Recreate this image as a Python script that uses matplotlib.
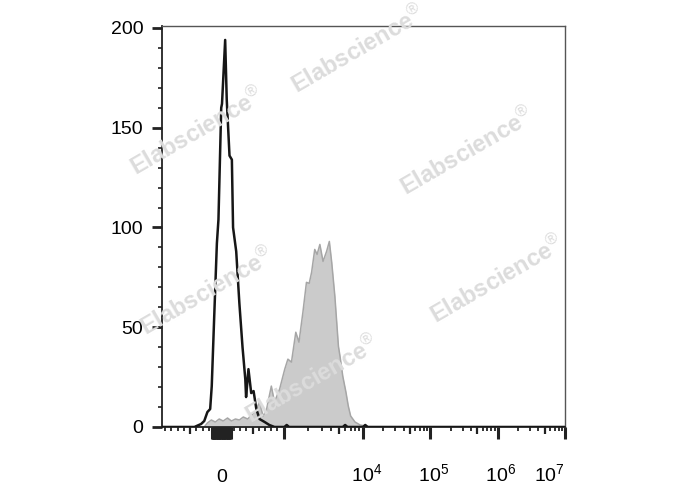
"""
Flow cytometry histogram: black open curve vs grey filled curve on a
biexponential-style axis, with the Elabscience watermark.
"""

import numpy as np
import matplotlib
matplotlib.use('Agg')
import matplotlib.pyplot as plt

plt.rcParams['font.family'] = ['Liberation Sans', 'DejaVu Sans']
plt.rcParams['mathtext.fontset'] = 'custom'
plt.rcParams['mathtext.rm'] = 'Liberation Sans'
plt.rcParams['mathtext.bf'] = 'Liberation Sans:bold'

# ── data (display channel 0..1024, counts) ────────────────────────────────
black_ch = [0, 82, 99, 107, 115, 122, 126, 132, 139, 143,
            150, 152, 160, 164, 171, 177, 180, 188, 196, 204,
            211, 213, 219, 226, 232, 239, 247, 260, 272, 285,
            310, 316, 322, 458, 464, 470, 509, 515, 521, 1024]
black_count = [0, 0, 1.5, 3, 7.5, 9, 20.5, 54, 92, 104,
               160, 162, 194, 164, 136, 134, 100, 88, 62, 40,
               24, 15, 29, 17, 18, 9, 4, 2.5, 1, 0,
               0, 1, 0, 0, 1, 0, 0, 1, 0, 0]

grey_ch = [0, 107, 115, 125, 135, 145, 155, 166, 176, 186,
           196, 206, 217, 227, 237, 247, 256, 264, 277, 285,
           298, 311, 319, 328, 339, 347, 357, 366, 373, 379,
           387, 393, 400, 408, 417, 424, 430, 438, 447, 451,
           458, 466, 472, 478, 489, 502, 515, 527, 1024]
grey_count = [0, 0, 2, 3.5, 2.5, 4, 3, 4.5, 3, 4,
              3.5, 5, 4, 6, 8, 12.5, 5.5, 8, 20.5, 12.5,
              19, 29, 34, 32.5, 47.5, 42.5, 57.5, 72.5, 72, 77.5,
              89, 86.5, 91.5, 83, 88, 93, 82.5, 65.5, 40.5, 35.5,
              25.5, 17.5, 10.5, 5.5, 2.5, 1, 0.5, 0, 0]

y_major = [0, 50, 100, 150, 200]
x_labelled = {0: '0', 1e4: r'$\hspace{0.4}10^4$', 1e5: r'$\hspace{0.4}10^5$',
              1e6: r'$\hspace{0.4}10^6$', 1e7: r'$10^7$'}

watermark_xy = [(358, 50), (197, 132), (467, 152), (207, 292), (497, 280), (312, 380)]


# ── display transform: linear around zero, log above 1e3 ─────────────────
ZERO_CH = 150.3
LIN_SLOPE = 0.158
DECADE_CH = 170.6
FIRST_DECADE_EXTRA = 30.6


def to_channel(v):
    v = np.asarray(v, dtype=float)
    lin = ZERO_CH + LIN_SLOPE * v
    dec = np.log10(np.maximum(v, 1e3) / 1e3)
    log = ZERO_CH + LIN_SLOPE * 1e3 + DECADE_CH * dec + FIRST_DECADE_EXTRA * np.minimum(dec, 1)
    return np.where(v <= 1e3, lin, log)


# tick values by kind
blob = [v for v in range(-150, 151, 10) if v != 0]
small_lin = [-900, -800, -700, -600, -400, -300, -200, 200, 300, 400, 600, 700, 800, 900]
medium = [-500, 500, 5e3, 5e4, 5e5, 5e6]
small_log = [k * 10 ** d for d in range(3, 7) for k in (2, 3, 4, 6, 7, 8, 9)]
long_ticks = [0, 1e3, 1e4, 1e5, 1e6, 1e7]

tick_kind = {}
for v in blob + long_ticks:
    tick_kind[v] = 'long'
for v in small_lin + small_log:
    tick_kind[v] = 'short'
for v in medium:
    tick_kind[v] = 'medium'
tick_vals = sorted(tick_kind)

fig = plt.figure(figsize=(6.88, 4.9), dpi=100)
ax = fig.add_axes([0.2355, 0.1286, 0.5858, 0.8184])

ax.fill_between(grey_ch, grey_count, color='#cbcbcb', lw=0, zorder=1)
ax.plot(grey_ch, grey_count, color='#a6a6a6', lw=1.1, zorder=1.5)
ax.plot(black_ch, black_count, color='#161616', lw=1.8, zorder=3)

ax.set_xlim(0, float(to_channel(1e7)))
ax.set_ylim(0, 201)

# y axis
ax.set_yticks(y_major)
ax.set_yticks(np.arange(0, 201, 10), minor=True)
ax.tick_params(axis='y', which='major', direction='out', length=7.5, width=2.0,
               labelsize=14, pad=6, color='#222222')
ax.tick_params(axis='y', which='minor', direction='out', length=3, width=1.2, color='#222222')

# x axis
ax.set_xticks(to_channel(tick_vals), [x_labelled.get(v, '') for v in tick_vals])
ax.tick_params(axis='x', which='major', direction='out', length=8.5, width=2.0,
               labelsize=14, pad=31, color='#222222')
sizes = {'long': (8.5, 2.2), 'medium': (5.0, 1.6), 'short': (3.0, 1.3)}
for tick, v in zip(ax.xaxis.get_major_ticks(), tick_vals):
    size, width = sizes[tick_kind[v]]
    tick.tick1line.set_markersize(size)
    tick.tick1line.set_markeredgewidth(width)
    tick.label1.set_verticalalignment('baseline')
    if v == 1e7:
        tick.label1.set_horizontalalignment('right')

for side in ['left', 'bottom']:
    ax.spines[side].set_linewidth(1.3)
    ax.spines[side].set_color('#222222')
for side in ['top', 'right']:
    ax.spines[side].set_linewidth(1.0)
    ax.spines[side].set_color('#555555')

# watermark
for px, py in watermark_xy:
    fig.text(px / 688, 1 - py / 490, r'$\mathbf{Elabscience}^{®}$',
             fontsize=17, color='#dcdcdc', rotation=30, rotation_mode='anchor',
             ha='center', va='center', zorder=2)

fig.savefig('out.png', dpi=100)
